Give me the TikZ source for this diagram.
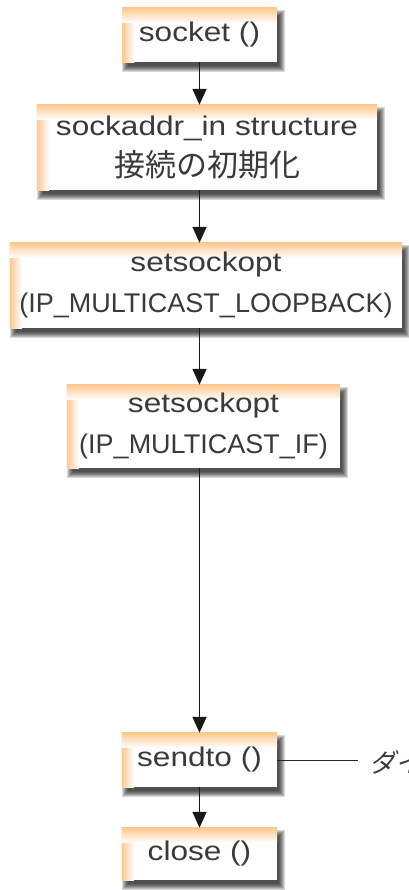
\documentclass[tikz,border=0pt]{standalone}
\usepackage{fontspec}
\setmainfont{Liberation Sans}
\newfontfamily\wide[FakeStretch=1.17]{Liberation Sans}
\newfontfamily\jp{Noto Sans CJK JP}
\newfontfamily\jpslant[FakeSlant=0.25]{Noto Sans CJK JP}
\usetikzlibrary{arrows.meta}
\pgfdeclarelayer{bgbase}
\pgfdeclarelayer{background}
\pgfsetlayers{bgbase,background,main}
\definecolor{txt}{HTML}{3A3A3A}
\definecolor{edge}{HTML}{FDC890}
\tikzset{
  box/.style={draw=none, inner sep=0pt, text=txt, align=center,
    font=\fontsize{27}{41}\selectfont},
  arr/.style={draw=black!90, line width=1.8pt, -{Triangle[width=14pt,length=16pt]}},
  conn/.style={draw=black!85, line width=1pt}
}
\begin{document}
\begin{tikzpicture}[x=1pt,y=1pt]
\begin{pgfonlayer}{bgbase}
\fill[white] (0,0) rectangle (408,-890);
\end{pgfonlayer}
\useasboundingbox (0,0) rectangle (408,-890);
\node[box, minimum width=154pt, minimum height=54pt] (socket) at (199.5,-35) {\wide socket ()};
\node[box, minimum width=340pt, minimum height=85pt] (addr) at (207,-147.5) {\wide sockaddr\_in structure\\{\jp\fontsize{31}{41}\selectfont 接続の初期化}};
\node[box, minimum width=392pt, minimum height=85pt] (loop) at (206,-285.5) {\wide setsockopt\\(IP\_MULTICAST\_LOOPBACK)};
\node[box, minimum width=273pt, minimum height=83pt] (mif) at (203.5,-426.5) {\wide setsockopt\\(IP\_MULTICAST\_IF)};
\node[box, minimum width=155pt, minimum height=54pt] (sendto) at (199.5,-760) {\wide sendto ()};
\node[box, minimum width=155pt, minimum height=52pt] (close) at (199.5,-854) {\wide close ()};
\node[anchor=west, inner sep=0pt, text=txt, font=\jpslant\fontsize{26}{28}\selectfont] (lbl) at (369,-762) {ダイ};
\coordinate (lend) at (358,-760);
\begin{pgfonlayer}{background}
\foreach \n in {socket,addr,loop,mif,sendto,close}{
  \foreach \e in {-2,-1,0,1,2,3,4}{
    \fill[black, opacity=0.15] ([shift={(4pt-\e pt,-6pt+\e pt)}]\n.north west) rectangle ([shift={(4pt+\e pt,-6pt-\e pt)}]\n.south east);
  }
  \fill[white] (\n.north west) rectangle (\n.south east);
  \shade[left color=edge, right color=white] (\n.north west) rectangle ([xshift=12pt]\n.south west);
  \shade[top color=edge, bottom color=white] (\n.north west) rectangle ([yshift=-15pt]\n.north east);
}
\end{pgfonlayer}
\draw[arr] (socket.south) -- (socket.south |- addr.north);
\draw[arr] (addr.south -| socket.center) -- (loop.north -| socket.center);
\draw[arr] (loop.south -| socket.center) -- (mif.north -| socket.center);
\draw[arr] (mif.south -| socket.center) -- (sendto.north -| socket.center);
\draw[arr] (sendto.south -| socket.center) -- (close.north -| socket.center);
\draw[conn] (sendto.east) -- (lend);
\end{tikzpicture}
\end{document}
